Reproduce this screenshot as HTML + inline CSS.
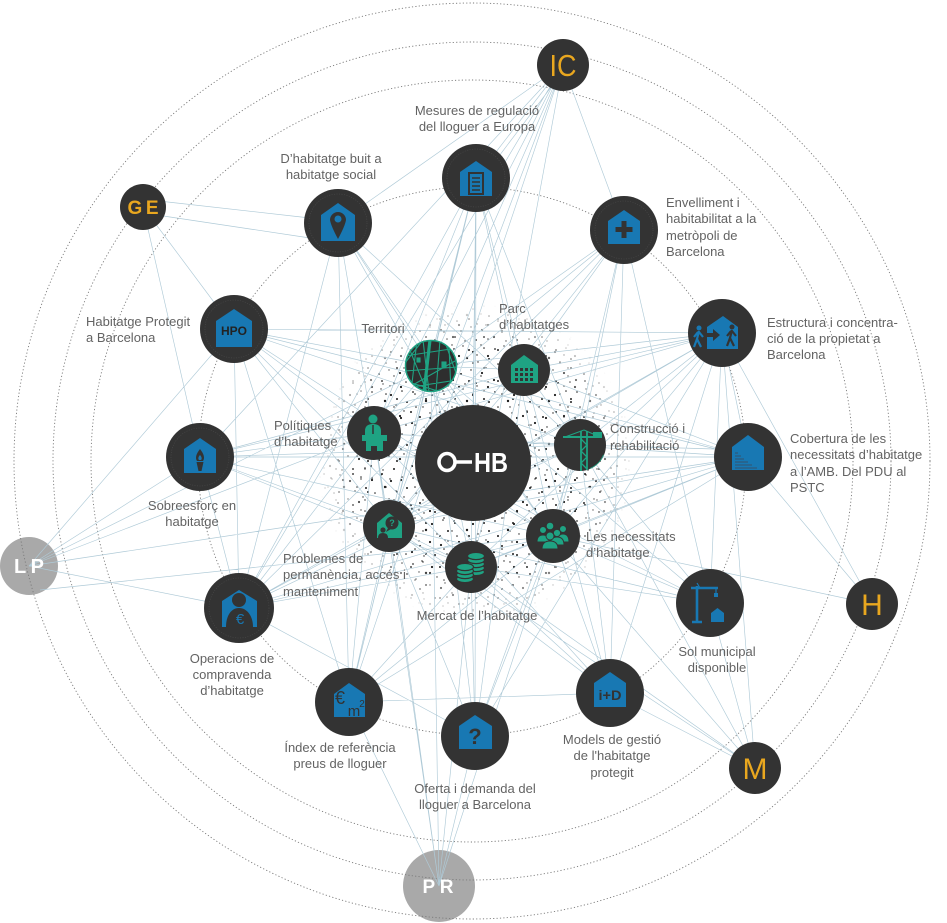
<!DOCTYPE html>
<html><head><meta charset="utf-8"><style>
html,body{margin:0;padding:0;background:#fff;}
svg{display:block;}
.l{font-family:"Liberation Sans",Arial,sans-serif;font-size:13px;fill:#636363;}
</style></head><body>
<svg width="947" height="923" viewBox="0 0 947 923" xmlns="http://www.w3.org/2000/svg">
<defs>
<pattern id="d1" width="41" height="43" patternUnits="userSpaceOnUse" fill="#1e1e1e">
<circle cx="3" cy="5" r=".9"/><circle cx="12" cy="2" r=".7"/><circle cx="22" cy="8" r="1.1"/><circle cx="33" cy="4" r=".8"/><circle cx="38" cy="15" r="1"/><circle cx="27" cy="18" r=".7"/><circle cx="16" cy="14" r="1.2"/><circle cx="6" cy="20" r=".8"/><circle cx="10" cy="30" r="1"/><circle cx="20" cy="26" r=".7"/><circle cx="31" cy="29" r="1.1"/><circle cx="37" cy="38" r=".8"/><circle cx="25" cy="39" r="1"/><circle cx="14" cy="40" r=".7"/><circle cx="2" cy="36" r="1.1"/><circle cx="35" cy="24" r=".7"/></pattern>
<pattern id="d2" width="29" height="31" patternUnits="userSpaceOnUse" fill="#1e1e1e">
<circle cx="5" cy="9" r="1"/><circle cx="17" cy="4" r=".7"/><circle cx="24" cy="15" r="1.1"/><circle cx="9" cy="22" r=".8"/><circle cx="20" cy="27" r="1"/><circle cx="13" cy="14" r=".7"/></pattern>
<radialGradient id="fg" cx="475" cy="462" r="158" gradientUnits="userSpaceOnUse"><stop offset="0" stop-color="#fff"/><stop offset=".72" stop-color="#fff"/><stop offset="1" stop-color="#000"/></radialGradient>
<mask id="mk"><rect width="947" height="923" fill="url(#fg)"/></mask>
<clipPath id="c26"><circle r="26"/></clipPath>
</defs>

<!-- gray outer nodes -->
<circle cx="29" cy="566" r="29" fill="#a9a9a9"/>
<circle cx="439" cy="886" r="36" fill="#a9a9a9"/>

<!-- rings -->
<g fill="none" stroke="#7a7a7a" stroke-width=".9" stroke-dasharray="1.2 2.2">
<circle cx="472" cy="461" r="274"/>
<circle cx="472" cy="461" r="381"/>
<circle cx="472" cy="461" r="419"/>
<circle cx="472" cy="461" r="458"/>
</g>

<!-- dots -->
<g mask="url(#mk)"><circle cx="475" cy="462" r="158" fill="url(#d1)"/><circle cx="475" cy="462" r="158" fill="url(#d2)"/></g>

<!-- connectors -->
<path fill="none" stroke="#afcad7" stroke-width=".65" d="
M563 65L200 457M563 65L476 178M567 66L481 180M563 65L239 608M563 65L374 433M563 65L431 366M563 65L389 526M563 65L349 702M563 65L471 567M563 65L624 230M563 65L338 223
M150 200L310 218M150 214L310 238M143 207L234 329M143 207L200 457
M29 566L234 329M29 566L200 457M29 566L239 608M29 566L374 433M40 590L553 536M29 566L431 366M29 566L748 457
M439 886L349 702M439 886L475 736M439 886L471 567M439 886L389 526M439 886L431 366M439 886L374 433M439 886L553 536
M755 768L710 603M755 768L610 693M755 768L553 536M755 768L580 445M755 768L389 526M755 768L471 567M755 768L722 333
M872 604L748 457M872 604L553 536M872 604L722 333
M476 178L374 433M476 178L431 366M476 178L389 526M476 178L471 567M476 178L473 463M476 178L553 536M476 178L475 736M476 178L349 702M476 178L239 608M476 178L580 445M476 178L524 370
M338 223L239 608M338 223L349 702M338 223L580 445M338 223L473 463M338 223L553 536M338 223L431 366M338 223L389 526
M624 230L431 366M624 230L374 433M624 230L710 603M624 230L610 693M624 230L580 445M624 230L524 370M624 230L553 536M624 230L389 526M624 230L239 608
M722 333L431 366M722 333L374 433M722 333L524 370M722 333L200 457M722 333L234 329M722 333L389 526M722 333L239 608M722 333L580 445M722 333L553 536M722 333L471 567M722 333L610 693M722 333L475 736M722 333L710 603M722 333L748 457
M748 457L374 433M748 450L580 445M748 457L200 457M748 457L389 526M748 457L553 536M748 457L234 329M748 457L524 370M748 457L431 366M748 457L239 608M748 457L349 702M748 457L471 567
M200 457L374 433M200 457L389 526M200 457L580 445M200 457L553 536M200 457L239 608M200 457L471 567M200 457L524 370
M234 329L374 433M234 329L389 526M234 329L431 366M234 329L553 536M234 329L580 445M234 329L471 567M234 329L239 608M234 329L349 702
M239 608L389 526M239 608L374 433M239 608L471 567M239 608L553 536M239 608L475 736M239 608L580 445
M710 603L553 536M710 603L580 445M710 603L389 526M710 603L374 433M710 603L471 567M710 603L431 366
M349 702L389 526M349 702L471 567M349 702L374 433M349 702L431 366M349 702L610 693M349 702L553 536
M610 693L553 536M610 693L471 567M610 693L580 445M610 693L524 370M610 693L389 526M610 693L374 433
M475 736L471 567M475 736L553 536M475 736L580 445M475 736L389 526M475 736L431 366M475 736L524 370
M431 366L524 370M374 433L431 366M580 445L524 370M553 536L580 445M471 567L553 536M389 526L471 567M374 433L389 526M431 366L553 536M524 370L389 526M374 433L580 445M431 366L471 567M524 370L471 567M374 433L553 536M389 526L580 445"/>

<!-- outer letter nodes -->
<g font-family="Liberation Sans,Arial,sans-serif" text-anchor="middle">
<circle cx="563" cy="65" r="26" fill="#333"/><text x="563" y="76" font-size="31" fill="#e9a71f" textLength="27" lengthAdjust="spacingAndGlyphs">IC</text>
<circle cx="143" cy="207" r="23" fill="#333"/><text x="143" y="214" font-size="19" font-weight="bold" fill="#e9a71f" textLength="31" lengthAdjust="spacing">GE</text>
<circle cx="872" cy="604" r="26" fill="#333"/><text x="872" y="615" font-size="30" fill="#e9a71f">H</text>
<circle cx="755" cy="768" r="26" fill="#333"/><text x="755" y="779" font-size="30" fill="#e9a71f">M</text>
<text x="29" y="573" font-size="20" font-weight="bold" fill="#fff" textLength="30" lengthAdjust="spacing">LP</text>
<text x="438" y="893" font-size="19" font-weight="bold" fill="#fff" textLength="31" lengthAdjust="spacing">PR</text>
</g>

<!-- ring nodes (blue icons) -->
<g>
<g transform="translate(476 178)"><circle r="34" fill="#333"/><circle r="29" fill="none" stroke="#4b4b4b" stroke-width=".6" stroke-dasharray="1 1.5"/>
<path d="M-16-6L0-17L16-6V18H-16Z" fill="#1878b3"/>
<rect x="-7" y="-5" width="14" height="21" fill="none" stroke="#333" stroke-width="2"/>
<path d="M-4 0H4M-4 4H4M-4 8H4M-4 12H4" stroke="#333" stroke-width="1.6"/></g>
<g transform="translate(338 223)"><circle r="34" fill="#333"/><circle r="29" fill="none" stroke="#4b4b4b" stroke-width=".6" stroke-dasharray="1 1.5"/>
<path d="M-17-8L0-20L17-8V18H-17Z" fill="#1878b3"/>
<path d="M-8-3A8 8 0 1 1 8-3Q7 3 0 16Q-7 3-8-3Z" fill="#333"/><circle cy="-4" r="3.5" fill="#1878b3"/></g>
<g transform="translate(624 230)"><circle r="34" fill="#333"/><circle r="29" fill="none" stroke="#4b4b4b" stroke-width=".6" stroke-dasharray="1 1.5"/>
<path d="M-16-9L0-20L16-9V14H-16Z" fill="#1878b3"/>
<path d="M-2.5-9h5v6h6v5h-6v6h-5v-6h-6v-5h6z" fill="#333"/></g>
<g transform="translate(234 329)"><circle r="34" fill="#333"/><circle r="29" fill="none" stroke="#4b4b4b" stroke-width=".6" stroke-dasharray="1 1.5"/>
<path d="M-18-8L0-20L18-8V18H-18Z" fill="#1878b3"/>
<text x="0" y="6" text-anchor="middle" font-family="Liberation Sans,Arial,sans-serif" font-weight="bold" font-size="12" fill="#222">HPO</text></g>
<g transform="translate(722 333)"><circle r="34" fill="#333"/>
<path d="M-15-6L1-17L16-6V16H-15Z" fill="#1878b3"/>
<path d="M-15 0h6v-4l7 6-7 6v-4h-6z" fill="#333"/>
<circle cx="10" cy="-6" r="2.5" fill="#333"/><path d="M10-3L8 5L5 13M8 5L12 13M9-2L5 3M10-2L14 3" stroke="#333" stroke-width="2.2" fill="none"/>
<circle cx="-23" cy="-5" r="2.5" fill="#1878b3"/><path d="M-23-2L-25 6L-28 14M-25 6L-21 14M-24-1L-28 4M-23-1L-19 4" stroke="#1878b3" stroke-width="2.2" fill="none"/></g>
<g transform="translate(200 457)"><circle r="34" fill="#333"/><circle r="29" fill="none" stroke="#4b4b4b" stroke-width=".6" stroke-dasharray="1 1.5"/>
<path d="M-16-8L0-19L16-8V16H-16Z" fill="#1878b3"/>
<path d="M0-8C4-3 5 1 3 4H-3C-5 1-4-3 0-8Z" fill="#333"/><path d="M0-2C2 0 2 2 1 3H-1C-2 2-2 0 0-2Z" fill="#1878b3"/>
<path d="M-3.5 5h7l-2 9h-3z" fill="#333"/></g>
<g transform="translate(748 457)"><circle r="34" fill="#333"/>
<path d="M-16-10L0-22L16-10V13H-16Z" fill="#1878b3"/>
<path d="M-13-4h3M-13-1h6M-13 2h9M-13 5h13M-13 8h17M-13 11h22" stroke="#2a5f85" stroke-width="1.4"/></g>
<g transform="translate(239 608)"><circle r="35" fill="#333"/><circle r="30" fill="none" stroke="#4b4b4b" stroke-width=".6" stroke-dasharray="1 1.5"/>
<path d="M-17-7L0-18L18-7V19H-17Z" fill="#1878b3"/>
<circle cy="-8" r="7" fill="#333"/><path d="M-13 19C-13 8-8 0 0 0C8 0 14 8 14 19Z" fill="#333"/>
<text x="1" y="16" text-anchor="middle" font-family="Liberation Sans,Arial,sans-serif" font-size="15" fill="#1878b3">€</text></g>
<g transform="translate(710 603)"><circle r="34" fill="#333"/>
<path d="M-13-17V19M-19-15H8M-18 19H-8" stroke="#1878b3" stroke-width="2.6" fill="none"/>
<path d="M-13-20L-10-15M6-15V-9" stroke="#1878b3" stroke-width="1.2"/><rect x="4" y="-10" width="4" height="4" fill="#1878b3"/>
<path d="M1 10L7.5 5L14 10V19H1Z" fill="#1878b3"/></g>
<g transform="translate(349 702)"><circle r="34" fill="#333"/>
<path d="M-15-8L0-19L16-8V15H-15Z" fill="#1878b3"/>
<g font-family="Liberation Sans,Arial,sans-serif" fill="#333"><text x="-9" y="2" text-anchor="middle" font-size="18">€</text><text x="5" y="14" text-anchor="middle" font-size="15">m</text><text x="13" y="5" font-size="10" text-anchor="middle">2</text></g></g>
<g transform="translate(610 693)"><circle r="34" fill="#333"/>
<path d="M-16-10L0-21L16-10V14H-16Z" fill="#1878b3"/>
<text x="0" y="7" text-anchor="middle" font-family="Liberation Sans,Arial,sans-serif" font-weight="bold" font-size="14" fill="#333" textLength="23" lengthAdjust="spacingAndGlyphs">i+D</text></g>
<g transform="translate(475 736)"><circle r="34" fill="#333"/>
<path d="M-16-10L0-21L17-10V13H-16Z" fill="#1878b3"/>
<text x="0" y="8" text-anchor="middle" font-family="Liberation Sans,Arial,sans-serif" font-weight="bold" font-size="22" fill="#333">?</text></g>
</g>

<!-- inner cluster -->
<g>
<circle cx="473" cy="463" r="58" fill="#333"/>
<ellipse cx="447" cy="462" rx="8" ry="8.5" fill="none" stroke="#fff" stroke-width="3.6"/>
<path d="M455 462H472" stroke="#fff" stroke-width="3.6"/>
<text x="474" y="472" font-family="Liberation Sans,Arial,sans-serif" font-weight="bold" font-size="28" fill="#fff" textLength="34" lengthAdjust="spacingAndGlyphs">HB</text>

<g transform="translate(431 366)"><circle r="26" fill="#2e2e2e"/>
<g clip-path="url(#c26)" stroke="#1fa383" fill="none" stroke-width="1.1">
<path d="M-26-10L26-18M-20 20L24-5M-8-26L-2 26M9-26L5 26M-26 5L26 1M-26 15L10 26M14-24L26 10M-22-18L-4 26M-26-3L-8-26M18 -20L20 26M-14 -26L-20 26M-26 22L26 14"/>
<path d="M-1-26L-7 26" stroke-width="3.2"/><rect x="11" y="-4" width="4" height="5" fill="#1fa383"/><rect x="-14" y="-8" width="3" height="4" fill="#1fa383"/>
</g><circle r="25.5" fill="none" stroke="#1fa383" stroke-width="1.5"/></g>
<g transform="translate(524 370)"><circle r="26" fill="#333"/>
<path d="M-13-5L0-15L14-5V13H-13Z" fill="#1fa383"/>
<g fill="#333"><rect x="-9" y="-2" width="3" height="3"/><rect x="-4" y="-2" width="3" height="3"/><rect x="1" y="-2" width="3" height="3"/><rect x="6" y="-2" width="3" height="3"/><rect x="-9" y="3" width="3" height="3"/><rect x="-4" y="3" width="3" height="3"/><rect x="1" y="3" width="3" height="3"/><rect x="6" y="3" width="3" height="3"/><rect x="-9" y="8" width="3" height="3"/><rect x="-4" y="8" width="3" height="3"/><rect x="1" y="8" width="3" height="3"/><rect x="6" y="8" width="3" height="3"/></g></g>
<g transform="translate(374 433)"><circle r="27" fill="#333"/>
<g fill="#1fa383"><circle cx="-1" cy="-14" r="4.5"/><path d="M-9-2Q-9-9-1-9Q7-9 7-2V2H-9Z"/><path d="M-12 2H13V8H9V18H3V13H-3V18H-8V8H-12Z"/></g>
<path d="M-1-8V1" stroke="#333" stroke-width="1.5"/></g>
<g transform="translate(580 445)"><circle r="26" fill="#333"/>
<g clip-path="url(#c26)" fill="none" stroke="#1fa383"><path d="M-17-8H22" stroke-width="2"/><path d="M1-14V30M7-14V30" stroke-width="1.8"/><path d="M1-6L7 0L1 6L7 12L1 18L7 24" stroke-width="1.3"/><path d="M4-15L-15-8M4-15L20-8" stroke-width="1"/><rect x="13" y="-13" width="9" height="6" fill="#1fa383" stroke="none"/></g>
<circle r="25.5" fill="none" stroke="#1fa383" stroke-width=".8" stroke-dasharray="20 140" stroke-dashoffset="-10"/></g>
<g transform="translate(389 526)"><circle r="26" fill="#333"/>
<path d="M-12-3L0-13L13-3V12H-12Z" fill="#1fa383"/>
<circle cx="3" cy="-3" r="6.5" fill="#333"/><path d="M-1 2L-3 6L2 3Z" fill="#333"/>
<text x="3" y="0" text-anchor="middle" font-family="Liberation Sans,Arial,sans-serif" font-weight="bold" font-size="9" fill="#1fa383">?</text>
<circle cx="-6" cy="4" r="2.6" fill="#333"/><path d="M-11 12Q-11 7-6 7Q-1 7-1 12Z" fill="#333"/></g>
<g transform="translate(553 536)"><circle r="27" fill="#333"/>
<g fill="#1fa383" stroke="#333" stroke-width="1">
<circle cx="-10" cy="-6" r="3.5"/><circle cx="10" cy="-7" r="3.5"/><circle cx="-3" cy="-10" r="3.8"/>
<path d="M-16 6Q-16-1-10-1Q-4-1-4 6Z"/><path d="M4 6Q4-2 10-2Q16-2 16 6Z"/>
<circle cx="4" cy="-3" r="3.6"/><path d="M-3 9Q-3 1 4 1Q11 1 11 9Z"/>
<circle cx="-3" cy="0" r="4"/><path d="M-11 13Q-11 5-3 5Q5 5 5 13Z"/></g></g>
<g transform="translate(471 567)"><circle r="26" fill="#333"/>
<g fill="#1fa383" stroke="#333" stroke-width="1.2">
<ellipse cx="5" cy="5" rx="8.5" ry="3.6"/><ellipse cx="5" cy="1" rx="8.5" ry="3.6"/><ellipse cx="5" cy="-3" rx="8.5" ry="3.6"/><ellipse cx="5" cy="-7" rx="8.5" ry="3.6"/><ellipse cx="5" cy="-11" rx="8.5" ry="3.6"/>
<ellipse cx="-6" cy="12" rx="8.5" ry="3.6"/><ellipse cx="-6" cy="8" rx="8.5" ry="3.6"/><ellipse cx="-6" cy="4" rx="8.5" ry="3.6"/><ellipse cx="-6" cy="0" rx="8.5" ry="3.6"/></g></g>
</g>

<!-- labels -->
<g>
<text x="477" y="115" text-anchor="middle" class="l">Mesures de regulació</text>
<text x="477" y="131" text-anchor="middle" class="l">del lloguer a Europa</text>
<text x="331" y="163" text-anchor="middle" class="l">D’habitatge buit a</text>
<text x="331" y="179" text-anchor="middle" class="l">habitatge social</text>
<text x="666" y="207" class="l">Envelliment i</text>
<text x="666" y="223" class="l">habitabilitat a la</text>
<text x="666" y="240" class="l">metròpoli de</text>
<text x="666" y="256" class="l">Barcelona</text>
<text x="86" y="326" class="l">Habitatge Protegit</text>
<text x="86" y="342" class="l">a Barcelona</text>
<text x="767" y="327" class="l">Estructura i concentra-</text>
<text x="767" y="343" class="l">ció de la propietat a</text>
<text x="767" y="359" class="l">Barcelona</text>
<text x="790" y="443" class="l">Cobertura de les</text>
<text x="790" y="459" class="l">necessitats d’habitatge</text>
<text x="790" y="476" class="l">a l’AMB. Del PDU al</text>
<text x="790" y="492" class="l">PSTC</text>
<text x="192" y="510" text-anchor="middle" class="l">Sobreesforç en</text>
<text x="192" y="526" text-anchor="middle" class="l">habitatge</text>
<text x="232" y="663" text-anchor="middle" class="l">Operacions de</text>
<text x="232" y="679" text-anchor="middle" class="l">compravenda</text>
<text x="232" y="695" text-anchor="middle" class="l">d’habitatge</text>
<text x="283" y="563" class="l">Problemes de</text>
<text x="283" y="579" class="l">permanència, accés i</text>
<text x="283" y="596" class="l">manteniment</text>
<text x="477" y="620" text-anchor="middle" class="l">Mercat de l’habitatge</text>
<text x="274" y="430" class="l">Polítiques</text>
<text x="274" y="446" class="l">d’habitatge</text>
<text x="383" y="333" text-anchor="middle" class="l">Territori</text>
<text x="499" y="313" class="l">Parc</text>
<text x="499" y="329" class="l">d’habitatges</text>
<text x="610" y="433" class="l">Construcció i</text>
<text x="610" y="450" class="l">rehabilitació</text>
<text x="586" y="541" class="l">Les necessitats</text>
<text x="586" y="557" class="l">d’habitatge</text>
<text x="340" y="752" text-anchor="middle" class="l">Índex de referència</text>
<text x="340" y="768" text-anchor="middle" class="l">preus de lloguer</text>
<text x="475" y="793" text-anchor="middle" class="l">Oferta i demanda del</text>
<text x="475" y="809" text-anchor="middle" class="l">lloguer a Barcelona</text>
<text x="612" y="744" text-anchor="middle" class="l">Models de gestió</text>
<text x="612" y="760" text-anchor="middle" class="l">de l'habitatge</text>
<text x="612" y="777" text-anchor="middle" class="l">protegit</text>
<text x="717" y="656" text-anchor="middle" class="l">Sol municipal</text>
<text x="717" y="672" text-anchor="middle" class="l">disponible</text>
</g>
</svg>
</body></html>
